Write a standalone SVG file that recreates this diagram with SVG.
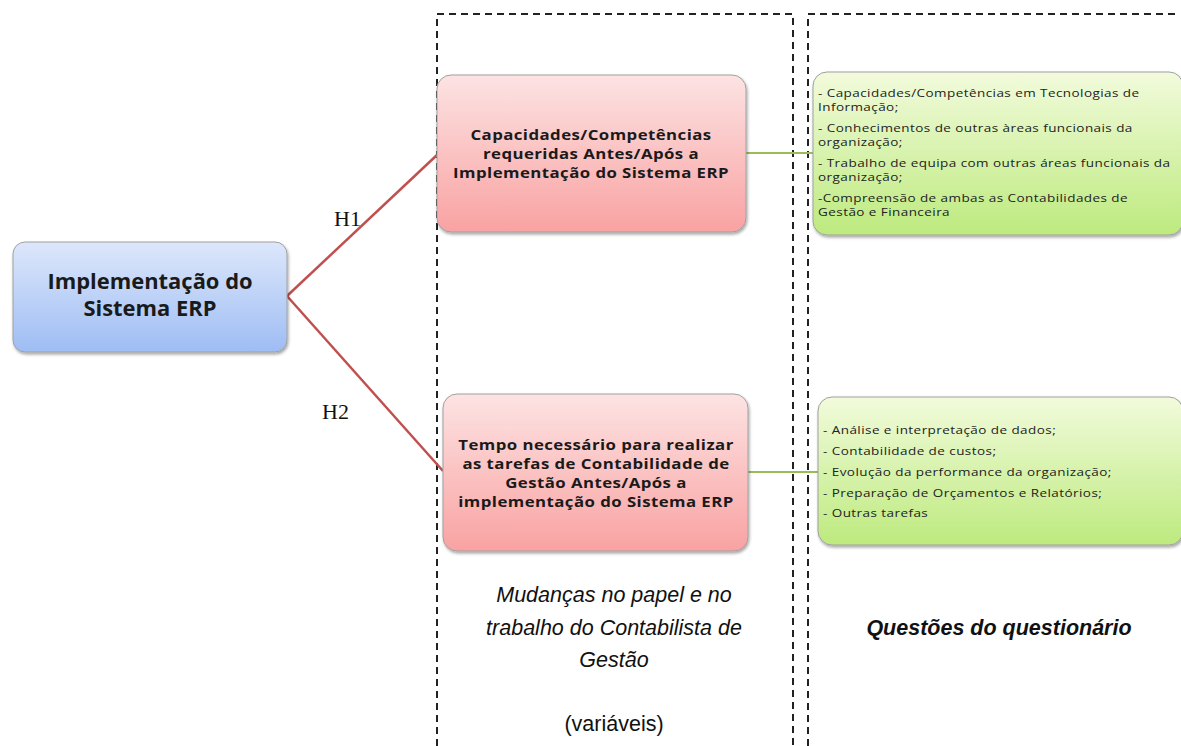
<svg xmlns="http://www.w3.org/2000/svg" width="1181" height="746" viewBox="0 0 1181 746">
<defs>
<linearGradient id="gBlue" x1="0" y1="0" x2="0" y2="1"><stop offset="0" stop-color="#dde7fb"/><stop offset="1" stop-color="#9ebdf4"/></linearGradient>
<linearGradient id="gRed" x1="0" y1="0" x2="0" y2="1"><stop offset="0" stop-color="#fde3e3"/><stop offset="1" stop-color="#f9a2a2"/></linearGradient>
<linearGradient id="gGreen" x1="0" y1="0" x2="0" y2="1"><stop offset="0" stop-color="#f2fbdc"/><stop offset="1" stop-color="#bdea7e"/></linearGradient>
<filter id="sh" x="-10%" y="-10%" width="120%" height="130%"><feDropShadow dx="1" dy="2" stdDeviation="1.5" flood-color="#000" flood-opacity="0.35"/></filter>
</defs>
<style>
.dash{fill:none;stroke:#222;stroke-width:2;stroke-dasharray:7,5}
.box{stroke:#a0a0a0;stroke-width:1;filter:url(#sh)}
.bt{font-family:"Open Sans",Lato,sans-serif;font-weight:bold;fill:#1a1a1a;text-anchor:middle}
.rt{font-size:15px;letter-spacing:0.4px}
.gt{font-family:"Open Sans",sans-serif;font-size:10.8px;letter-spacing:0.35px;fill:#222}
.h{font-family:"Liberation Serif",serif;font-size:22px;fill:#111}
.cap{font-family:"Liberation Sans",Arial,sans-serif;font-size:21.5px;fill:#111;text-anchor:middle}
.red{stroke:#c0504d;stroke-width:2.5;fill:none}
.grn{stroke:#9bbb59;stroke-width:2;fill:none}
</style>
<g id="frames">
<path class="dash" d="M437,746 V14 H793 V746"/>
<path class="dash" d="M808,746 V14 H1180"/>
</g>
<g id="connectors">
<line class="red" x1="287" y1="296" x2="437" y2="155"/>
<line class="red" x1="287" y1="296" x2="443" y2="471"/>
<line class="grn" x1="746" y1="153" x2="813" y2="153"/>
<line class="grn" x1="748" y1="472" x2="818" y2="472"/>
</g>
<g id="n-erp">
<rect class="box" x="13" y="242" width="274" height="110" rx="12" fill="url(#gBlue)"/>
<g transform="translate(150,0) scale(1.07,1)">
<text class="bt" font-size="20.5" x="0" y="289">Implementação do</text>
<text class="bt" font-size="20.5" x="0" y="316">Sistema ERP</text>
</g>
</g>
<g id="n-cap">
<rect class="box" x="437" y="75" width="309" height="157" rx="14" fill="url(#gRed)"/>
<g transform="translate(591,0) scale(1.12,1)">
<text class="bt rt" x="0" y="140">Capacidades/Competências</text>
<text class="bt rt" x="0" y="159">requeridas Antes/Após a</text>
<text class="bt rt" x="0" y="178">Implementação do Sistema ERP</text>
</g>
</g>
<g id="n-tempo">
<rect class="box" x="443" y="394" width="305" height="157" rx="14" fill="url(#gRed)"/>
<g transform="translate(596,0) scale(1.12,1)">
<text class="bt rt" x="0" y="450">Tempo necessário para realizar</text>
<text class="bt rt" x="0" y="469">as tarefas de Contabilidade de</text>
<text class="bt rt" x="0" y="488">Gestão Antes/Após a</text>
<text class="bt rt" x="0" y="507">implementação do Sistema ERP</text>
</g>
</g>
<g id="n-q1">
<rect class="box" x="813" y="72" width="370" height="163" rx="14" fill="url(#gGreen)"/>
<g transform="translate(818,0) scale(1.25,1)">
<text class="gt" x="0" y="97">- Capacidades/Competências em Tecnologias de</text>
<text class="gt" x="0" y="111">Informação;</text>
<text class="gt" x="0" y="132">- Conhecimentos de outras àreas funcionais da</text>
<text class="gt" x="0" y="146">organização;</text>
<text class="gt" x="0" y="167">- Trabalho de equipa com outras áreas funcionais da</text>
<text class="gt" x="0" y="181">organização;</text>
<text class="gt" x="0" y="202">-Compreensão de ambas as Contabilidades de</text>
<text class="gt" x="0" y="216">Gestão e Financeira</text>
</g>
</g>
<g id="n-q2">
<rect class="box" x="818" y="397" width="365" height="148" rx="14" fill="url(#gGreen)"/>
<g transform="translate(823,0) scale(1.25,1)">
<text class="gt" x="0" y="434">- Análise e interpretação de dados;</text>
<text class="gt" x="0" y="455">- Contabilidade de custos;</text>
<text class="gt" x="0" y="476">- Evolução da performance da organização;</text>
<text class="gt" x="0" y="497">- Preparação de Orçamentos e Relatórios;</text>
<text class="gt" x="0" y="517">- Outras tarefas</text>
</g>
</g>
<g id="labels">
<text class="h" x="334" y="226">H1</text>
<text class="h" x="322" y="419">H2</text>
<text class="cap" x="614" y="602" font-style="italic">Mudanças no papel e no</text>
<text class="cap" x="614" y="635" font-style="italic">trabalho do Contabilista de</text>
<text class="cap" x="614" y="667" font-style="italic">Gestão</text>
<text class="cap" x="614" y="731">(variáveis)</text>
<text class="cap" x="999" y="635" font-style="italic" font-weight="bold">Questões do questionário</text>
</g>
</svg>
